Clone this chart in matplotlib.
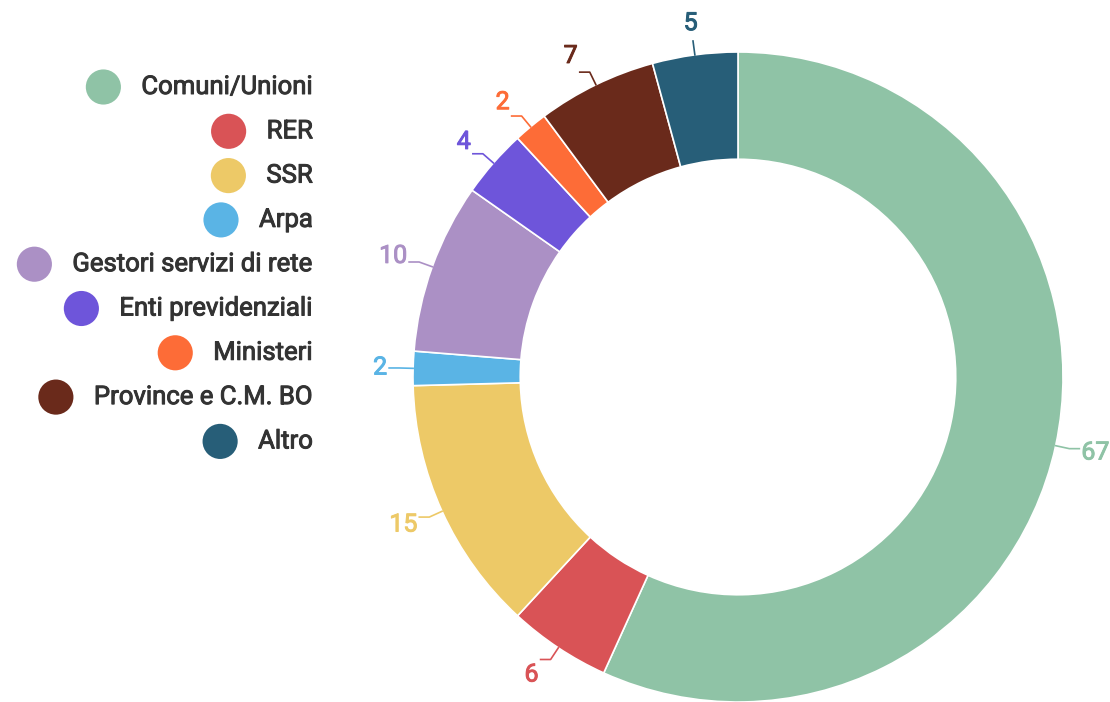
import numpy as np
import matplotlib.pyplot as plt
import matplotlib.patheffects as pe

categories = ['Comuni/Unioni', 'RER', 'SSR', 'Arpa', 'Gestori servizi di rete',
              'Enti previdenziali', 'Ministeri', 'Province e C.M. BO', 'Altro']
values = [67, 6, 15, 2, 10, 4, 2, 7, 5]
colors = ['#8fc3a6', '#d95356', '#edc967', '#5ab4e5', '#ab90c5',
          '#6e55da', '#fd6c37', '#6a2a1b', '#275e78']

plt.rcParams['font.family'] = ['Roboto', 'DejaVu Sans']

W, H = 1110, 702
fig = plt.figure(figsize=(W / 100, H / 100), dpi=100)
ax = fig.add_axes([0, 0, 1, 1])

cx, cy, R = 738, H - 377, 325
wedges, _ = ax.pie(values, colors=colors, startangle=90, counterclock=False,
                   center=(cx, cy), radius=R, frame=True,
                   wedgeprops=dict(width=R * 0.33, edgecolor='white', linewidth=1.2))
ax.set_xlim(0, W)
ax.set_ylim(0, H)
ax.set_aspect('equal')
ax.axis('off')

# data labels with short leader lines
for w, v, c in zip(wedges, values, colors):
    a = np.deg2rad((w.theta1 + w.theta2) / 2)
    ca, sa = np.cos(a), np.sin(a)
    x0, y0 = cx + R * ca, cy + R * sa
    x1, y1 = cx + (R + 14) * ca, cy + (R + 14) * sa
    ha = 'left' if ca > 0.3 else ('right' if ca < -0.3 else 'center')
    x2 = x1 + (10 if ha == 'left' else -10 if ha == 'right' else 0)
    ax.plot([x0, x1, x2], [y0, y1, y1], color=c, lw=1.2)
    tx, ty = cx + (R + 32) * ca, cy + (R + 32) * sa
    if ha == 'left':
        tx = x2 + 2
    elif ha == 'right':
        tx = x2 - 2
    ax.text(tx, ty, str(v), color=c, fontsize=18, ha=ha, va='center',
            path_effects=[pe.withStroke(linewidth=0.7, foreground=c)])

# legend: right-aligned labels with circles
fig.canvas.draw()
rend = fig.canvas.get_renderer()
lx, ly0, step = 313, H - 87, 44.3
for i, (lab, c) in enumerate(zip(categories, colors)):
    y = ly0 - i * step
    t = ax.text(lx, y, lab, fontsize=18.5, ha='right', va='center', color='#333333',
                path_effects=[pe.withStroke(linewidth=0.7, foreground='#333333')])
    bb = t.get_window_extent(rend)
    ax.scatter([bb.x0 - 38], [y], s=640, color=c, edgecolors='none')

fig.savefig('out.png', dpi=100)
